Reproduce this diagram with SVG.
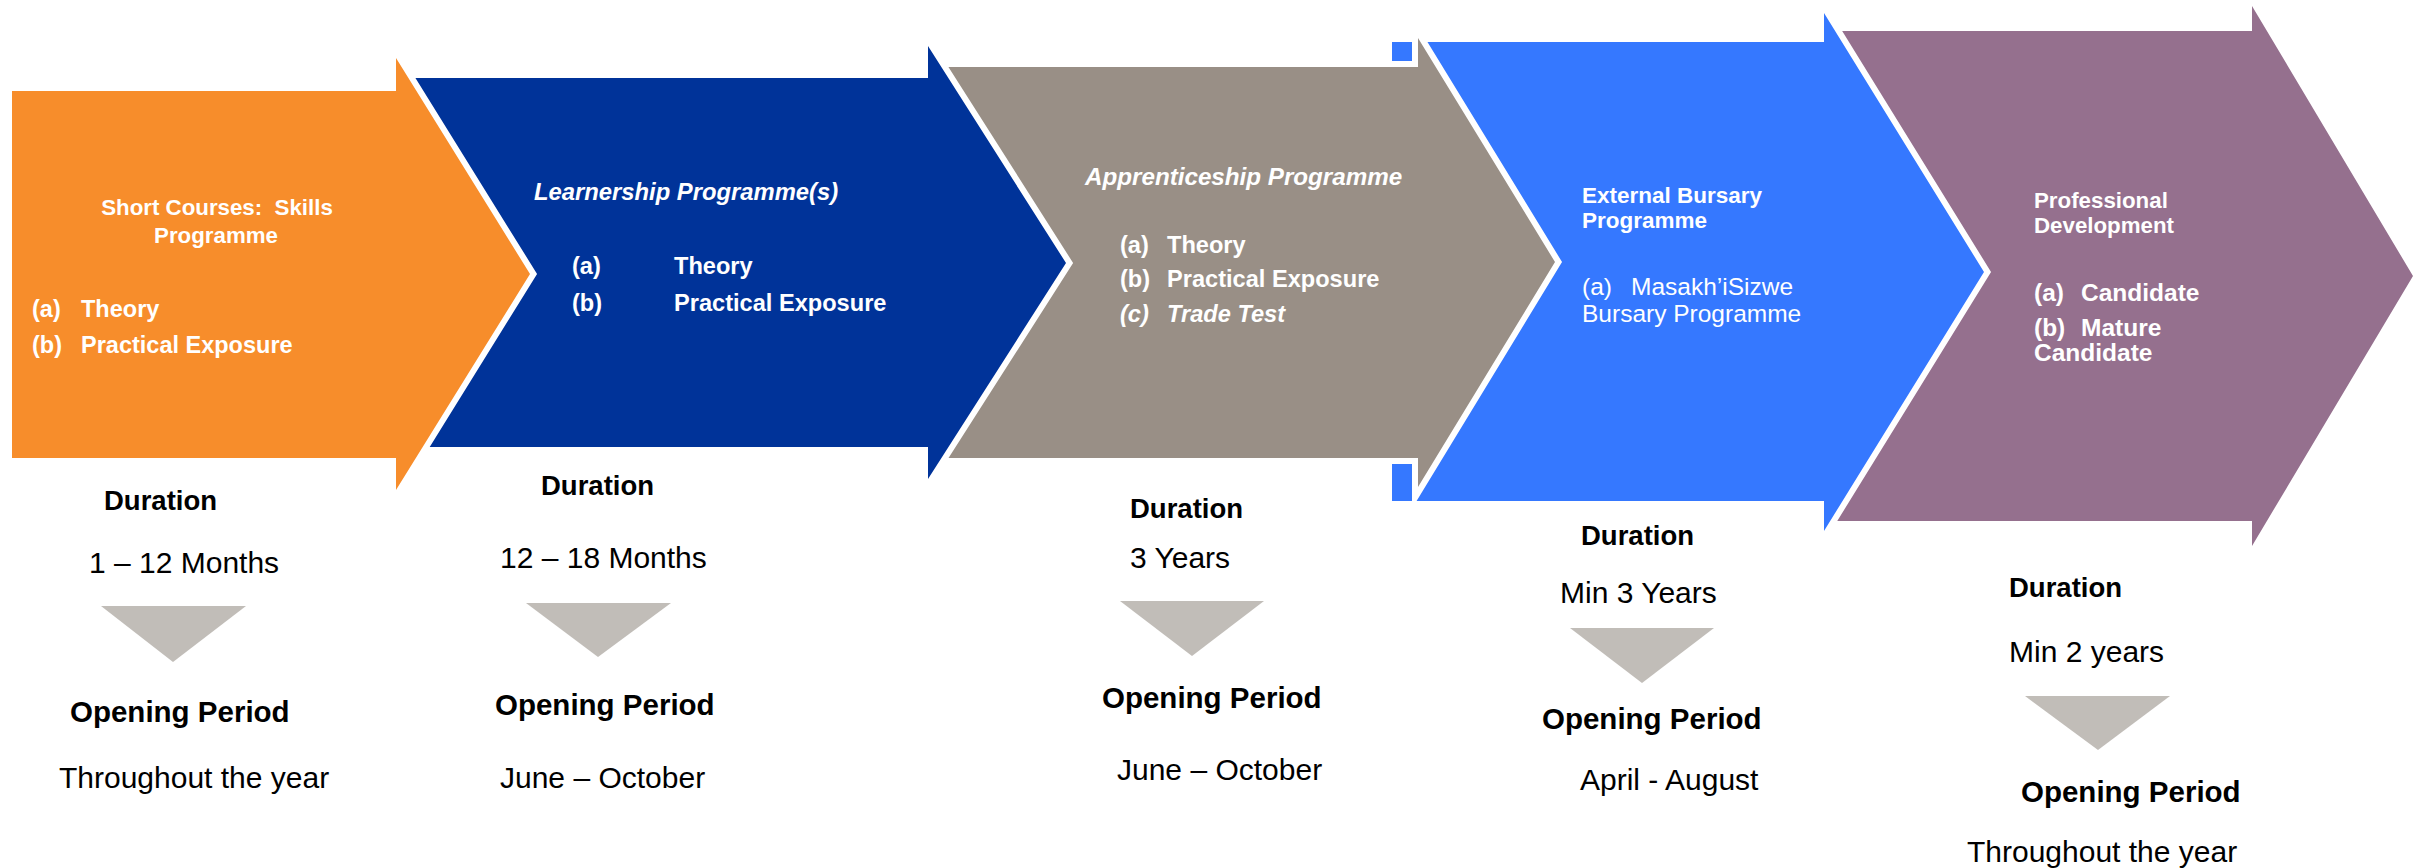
<svg xmlns="http://www.w3.org/2000/svg" width="2423" height="868" viewBox="0 0 2423 868">
<style>
.arrow{stroke:#fff;stroke-width:12;paint-order:stroke;stroke-linejoin:miter;stroke-miterlimit:4}
.w{font-family:"Liberation Sans",Arial,sans-serif;fill:#fff;font-weight:bold}
.it{font-style:italic}
.reg{font-weight:normal}
.b{font-family:"Liberation Sans",Arial,sans-serif;fill:#000}
.h{font-weight:bold;font-size:27.5px}
.op{font-weight:bold;font-size:29.5px}
.v{font-size:30px}
.tri{fill:#C1BDB8}
</style>
<rect width="2423" height="868" fill="#fff"/>

<g id="node-professional">
<path class="arrow" fill="#95708E" d="M1828,31 H2252 V6 L2413,276 L2252,546 V521 H1828 Z"/>
<text class="w" font-size="22.3"><tspan x="2034" y="208">Professional</tspan><tspan x="2034" y="233">Development</tspan></text>
<text class="w" font-size="24.5"><tspan x="2034" y="301">(a)</tspan><tspan x="2081" y="301">Candidate</tspan><tspan x="2034" y="336">(b)</tspan><tspan x="2081" y="336">Mature</tspan><tspan x="2034" y="361">Candidate</tspan></text>
</g>

<g id="node-bursary">
<path class="arrow" fill="#3578FF" d="M1392,42 H1824 V13 L1984,272 L1824,531 V501 H1392 Z"/>
<text class="w" font-size="22.5"><tspan x="1582" y="203">External Bursary</tspan><tspan x="1582" y="228">Programme</tspan></text>
<text class="w reg" font-size="24.5"><tspan x="1582" y="295">(a)</tspan><tspan x="1631" y="295">Masakh’iSizwe</tspan><tspan x="1582" y="322">Bursary Programme</tspan></text>
</g>

<g id="node-apprenticeship">
<path class="arrow" fill="#998F86" d="M932,67 H1418 V38 L1555,262 L1418,487 V458 H932 Z"/>
<text class="w it" font-size="24.2" x="1085" y="185">Apprenticeship Programme</text>
<text class="w" font-size="23.6"><tspan x="1120" y="253">(a)</tspan><tspan x="1167" y="253">Theory</tspan><tspan x="1120" y="287">(b)</tspan><tspan x="1167" y="287">Practical Exposure</tspan><tspan x="1120" y="322" font-style="italic">(c)</tspan><tspan x="1167" y="322" font-style="italic">Trade Test</tspan></text>
</g>

<g id="node-learnership">
<path class="arrow" fill="#003399" d="M402,78 H928 V46 L1066,263 L928,479 V447 H402 Z"/>
<text class="w it" font-size="23.8" x="534" y="200">Learnership Programme(s)</text>
<text class="w" font-size="23.6"><tspan x="572" y="274">(a)</tspan><tspan x="674" y="274">Theory</tspan><tspan x="572" y="311">(b)</tspan><tspan x="674" y="311">Practical Exposure</tspan></text>
</g>

<g id="node-short-courses">
<path class="arrow" fill="#F78D2B" d="M12,91 H396 V58 L530,274 L396,490 V458 H12 Z"/>
<text class="w" font-size="22.3" text-anchor="middle" xml:space="preserve"><tspan x="217" y="215">Short Courses:  Skills</tspan><tspan x="216" y="243">Programme</tspan></text>
<text class="w" font-size="23.5"><tspan x="32" y="317">(a)</tspan><tspan x="81" y="317">Theory</tspan><tspan x="32" y="353">(b)</tspan><tspan x="81" y="353">Practical Exposure</tspan></text>
</g>

<g id="details-short-courses">
<text class="b h" x="104" y="510">Duration</text>
<text class="b v" x="89" y="573">1 – 12 Months</text>
<text class="b op" x="70" y="722">Opening Period</text>
<text class="b v" font-size="31.8" x="59" y="788">Throughout the year</text>
</g>
<g id="details-learnership">
<text class="b h" x="541" y="495">Duration</text>
<text class="b v" x="500" y="568">12 – 18 Months</text>
<text class="b op" x="495" y="715">Opening Period</text>
<text class="b v" font-size="31.8" x="500" y="788">June – October</text>
</g>
<g id="details-apprenticeship">
<text class="b h" x="1130" y="518">Duration</text>
<text class="b v" x="1130" y="568">3 Years</text>
<text class="b op" x="1102" y="708">Opening Period</text>
<text class="b v" font-size="31.8" x="1117" y="780">June – October</text>
</g>
<g id="details-bursary">
<text class="b h" x="1581" y="545">Duration</text>
<text class="b v" x="1560" y="603">Min 3 Years</text>
<text class="b op" x="1542" y="729">Opening Period</text>
<text class="b v" font-size="30.5" x="1580" y="790">April - August</text>
</g>
<g id="details-professional">
<text class="b h" x="2009" y="597">Duration</text>
<text class="b v" x="2009" y="662">Min 2 years</text>
<text class="b op" x="2021" y="802">Opening Period</text>
<text class="b v" font-size="31.8" x="1967" y="862">Throughout the year</text>
</g>

<g id="connectors">
<polygon class="tri" points="101,606 246,606 173,662"/>
<polygon class="tri" points="526,603 671,603 598,657"/>
<polygon class="tri" points="1120,601 1264,601 1192,656"/>
<polygon class="tri" points="1570,628 1714,628 1642,683"/>
<polygon class="tri" points="2025,696 2170,696 2098,750"/>
</g>
</svg>
